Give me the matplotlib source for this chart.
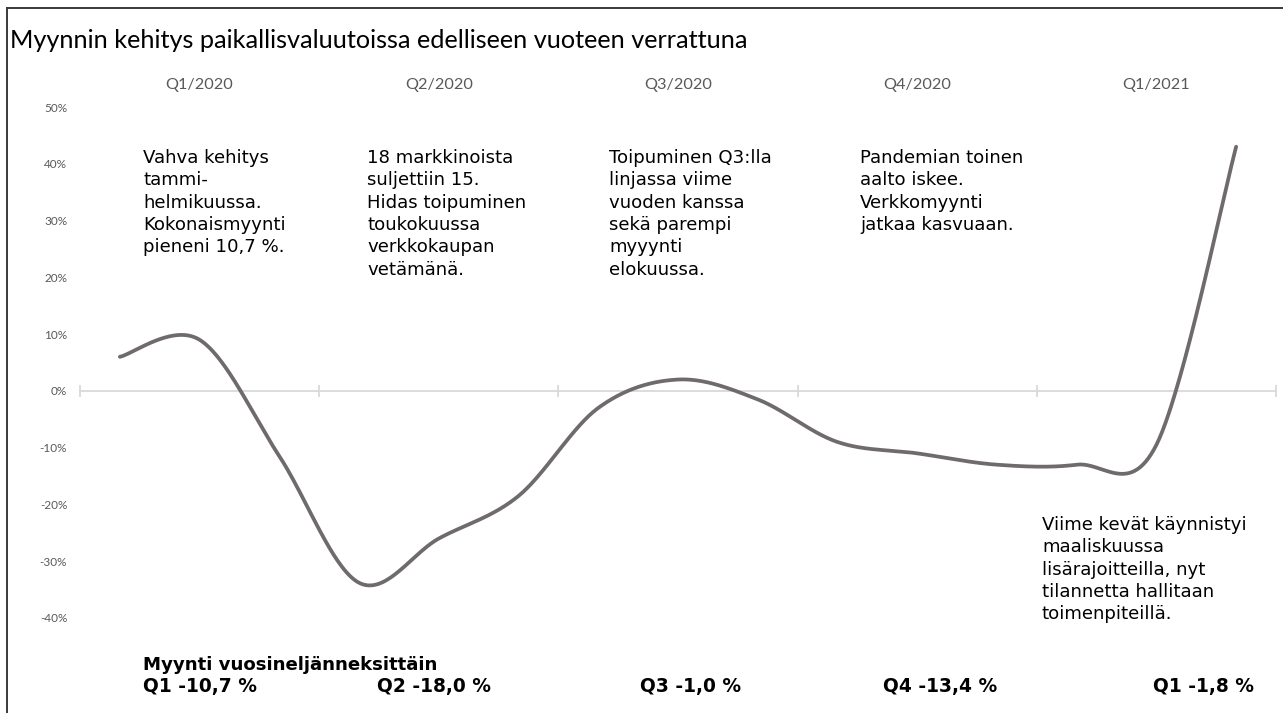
import numpy as np
import matplotlib
matplotlib.use("Agg")
import matplotlib.pyplot as plt
from matplotlib.lines import Line2D
from matplotlib.transforms import blended_transform_factory

# ---------------- data ----------------
months = ["01/2020", "02/2020", "03/2020", "04/2020", "05/2020", "06/2020",
          "07/2020", "08/2020", "09/2020", "10/2020", "11/2020", "12/2020",
          "01/2021", "02/2021", "03/2021"]
growth = [6.0, 9.0, -11.5, -33.8, -26.0, -18.5,
          -3.0, 2.0, -1.5, -9.0, -11.0, -13.0,
          -13.0, -9.5, 43.0]
quarters = ["Q1/2020", "Q2/2020", "Q3/2020", "Q4/2020", "Q1/2021"]
quarter_sales = ["Q1 -10,7 %", "Q2 -18,0 %", "Q3 -1,0 %", "Q4 -13,4 %", "Q1 -1,8 %"]
yticks = [50, 40, 30, 20, 10, 0, -10, -20, -30, -40]
notes = [
    "Vahva kehitys\ntammi-\nhelmikuussa.\nKokonaismyynti\npieneni 10,7 %.",
    "18 markkinoista\nsuljettiin 15.\nHidas toipuminen\ntoukokuussa\nverkkokaupan\nvetämänä.",
    "Toipuminen Q3:lla\nlinjassa viime\nvuoden kanssa\nsekä parempi\nmyyynti\nelokuussa.",
    "Pandemian toinen\naalto iskee.\nVerkkomyynti\njatkaa kasvuaan.",
    "Viime kevät käynnistyi\nmaaliskuussa\nlisärajoitteilla, nyt\ntilannetta hallitaan\ntoimenpiteillä.",
]
title = "Myynnin kehitys paikallisvaluutoissa edelliseen vuoteen verrattuna"
bottom_heading = "Myynti vuosineljänneksittäin"

W, H = 1283, 713
def fx(px): return px / W
def fy(py): return 1 - py / H

# Excel-like smoothed line (Catmull-Rom as cubic Bezier)
def smooth(x, y, n=60):
    x = np.asarray(x, float); y = np.asarray(y, float)
    xs, ys = [], []
    m = len(x)
    t = np.linspace(0, 1, n)
    for i in range(m - 1):
        i0 = max(i - 1, 0); i3 = min(i + 2, m - 1)
        p1 = np.array([x[i], y[i]]); p2 = np.array([x[i + 1], y[i + 1]])
        p0 = np.array([x[i0], y[i0]]); p3 = np.array([x[i3], y[i3]])
        c1 = p1 + (p2 - p0) / 6.0
        c2 = p2 - (p3 - p1) / 6.0
        b = ((1 - t)[:, None] ** 3 * p1 + 3 * ((1 - t) ** 2 * t)[:, None] * c1
             + 3 * ((1 - t) * t ** 2)[:, None] * c2 + (t ** 3)[:, None] * p2)
        xs.append(b[:, 0] if i == 0 else b[1:, 0])
        ys.append(b[:, 1] if i == 0 else b[1:, 1])
    return np.concatenate(xs), np.concatenate(ys)

fig = plt.figure(figsize=(W / 100, H / 100), dpi=100)
fig.patch.set_facecolor("white")

left, right, top, bottom = 80, 1276, 107, 618
ax = fig.add_axes([fx(left), fy(bottom), fx(right) - fx(left), (bottom - top) / H])
ax.set_facecolor("none")

xpos = np.arange(len(months)) + 0.5
sx, sy = smooth(xpos, growth)
ax.plot(sx, sy, color="#6f6b6c", lw=2.7, solid_capstyle="round", zorder=3)

ax.set_xlim(0, len(months))
ax.set_ylim(-40, 50)
ax.set_yticks(yticks)
ax.set_yticklabels([f"{v}%" for v in yticks], fontfamily="Lato", fontsize=8.5, color="#595959")
ax.tick_params(axis="y", length=0, pad=9.2)

for s in ["left", "right", "top"]:
    ax.spines[s].set_visible(False)
ax.spines["bottom"].set_position(("data", 0))
ax.spines["bottom"].set_color("#d9d9d9")
ax.spines["bottom"].set_linewidth(1.3)
ax.set_xticks(np.arange(0, len(months) + 1, 3))
ax.set_xticklabels([])
ax.tick_params(axis="x", direction="inout", length=8, width=1.3, color="#d9d9d9")

# quarter labels on top
tr = blended_transform_factory(ax.transData, fig.transFigure)
for i, q in enumerate(quarters):
    ax.text(3 * i + 1.5, fy(89), q, transform=tr, ha="center", va="baseline",
            fontfamily="Lato", fontsize=11.7, color="#595959")

# title
fig.text(fx(10), fy(48), title, ha="left", va="baseline",
         fontfamily="Lato", fontsize=18.2, color="#000000")

# annotations
note_pos = [(143, 149), (367, 149), (609, 149), (860, 149), (1042, 516)]
for txt, (px, py) in zip(notes, note_pos):
    fig.text(fx(px), fy(py), txt, ha="left", va="top", fontfamily="DejaVu Sans",
             fontsize=13.1, linespacing=1.31, color="#000000")

# bottom quarterly sales
fig.text(fx(143), fy(670), bottom_heading, ha="left", va="baseline",
         fontfamily="DejaVu Sans", fontweight="bold", fontsize=13.1, color="#000000")
qs_x = [143, 377, 640, 883, 1153]
for s, px in zip(quarter_sales, qs_x):
    fig.text(fx(px), fy(692), s, ha="left", va="baseline",
             fontfamily="DejaVu Sans", fontweight="bold", fontsize=13.4, color="#000000")

# frame (left + top edges)
fig.add_artist(Line2D([fx(7), fx(7)], [fy(8), fy(713)], transform=fig.transFigure,
                      color="#3a3a3a", lw=1.4))
fig.add_artist(Line2D([fx(7), fx(1283)], [fy(8), fy(8)], transform=fig.transFigure,
                      color="#3a3a3a", lw=1.4))

fig.savefig("out.png", dpi=100, facecolor="white")
